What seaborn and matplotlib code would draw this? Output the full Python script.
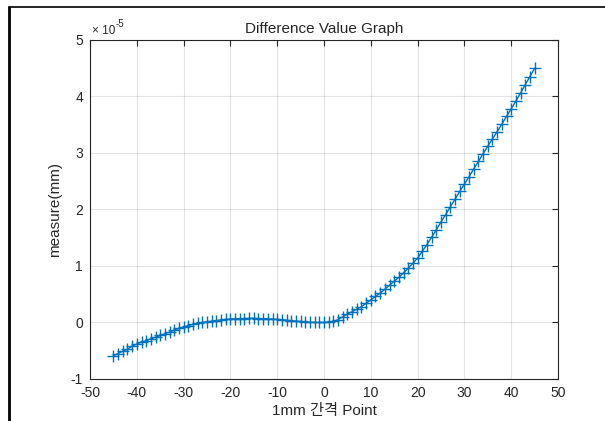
import numpy as np
import matplotlib
matplotlib.use("Agg")
import matplotlib.pyplot as plt
import matplotlib.ticker as mticker
from matplotlib.lines import Line2D
from matplotlib.transforms import offset_copy
import seaborn as sns

# 측정 포인트 (1mm 간격)
points = list(range(-45, 46))

# measure 값 (x 1e-5 mm), 그림에서 읽은 값
measure_e5 = [
    -0.59, -0.55, -0.51, -0.47, -0.42, -0.38, -0.35, -0.32, -0.29, -0.26,
    -0.23, -0.20, -0.17, -0.135, -0.105, -0.08, -0.055, -0.035, -0.015, 0.0,
    0.012, 0.024, 0.035, 0.045, 0.053, 0.06, 0.065, 0.068, 0.07, 0.072,
    0.072, 0.07, 0.068, 0.065, 0.06, 0.055, 0.048, 0.04, 0.032, 0.025,
    0.018, 0.01, 0.005, 0.001, 0.0, 0.0,
    0.005, 0.02, 0.05, 0.10, 0.15, 0.19, 0.235, 0.28, 0.34, 0.40,
    0.46, 0.52, 0.59, 0.66, 0.73, 0.80, 0.88, 0.96, 1.05, 1.14,
    1.26, 1.38, 1.51, 1.64, 1.78, 1.91, 2.05, 2.18, 2.32, 2.45,
    2.58, 2.72, 2.85, 2.99, 3.12, 3.25, 3.38, 3.51, 3.65, 3.78,
    3.92, 4.06, 4.21, 4.35, 4.50,
]
measure = np.array(measure_e5) * 1e-5

x_ticks = list(range(-50, 51, 10))
y_ticks = [v * 1e-5 for v in range(-1, 6)]

sns.set_style("white")
plt.rcParams['font.family'] = ['Liberation Sans', 'Noto Sans CJK KR', 'DejaVu Sans']
plt.rcParams['axes.unicode_minus'] = False

fig = plt.figure(figsize=(6.05, 4.21), dpi=100)
ax = fig.add_axes([0.1488, 0.0998, 0.7735, 0.8052])

sns.lineplot(x=points, y=measure, ax=ax, color='#0072BD', linewidth=1,
             marker='+', markersize=8, markeredgewidth=1,
             markeredgecolor='#0072BD')

ax.set_xlim(-50, 50)
ax.set_ylim(-1e-5, 5e-5)
ax.set_xticks(x_ticks)
ax.set_yticks(y_ticks)
ax.yaxis.set_major_formatter(mticker.FuncFormatter(lambda v, p: f"{v / 1e-5:g}"))

# 지수 표기 (x 10^-5)
base = ax.text(0.004, 1.01, '× 10', transform=ax.transAxes, fontsize=8.5,
               color='#262626', ha='left', va='bottom')
fig.canvas.draw()
bb = base.get_window_extent()
x_end = ax.transAxes.inverted().transform((bb.x1, bb.y1))[0]
ax.text(x_end, 1.032, '-5', transform=ax.transAxes, fontsize=7,
        color='#262626', ha='left', va='bottom')

ax.grid(True, color='#262626', alpha=0.12, linewidth=0.8)
for s in ax.spines.values():
    s.set_color('#262626')
    s.set_linewidth(0.8)
ax.tick_params(direction='in', top=True, right=True, length=4,
               width=0.8, colors='#262626', labelsize=10, pad=5)

ax.set_title('Difference Value Graph', fontsize=11, pad=5)
ax.set_xlabel('1mm 간격 Point', fontsize=11, labelpad=3)
ax.set_ylabel('measure(mm)', fontsize=11, labelpad=6)

# 바깥 테두리 (왼쪽, 위)
fig.add_artist(Line2D([8.5 / 605, 8.5 / 605], [0, 1 - 7 / 421],
                      transform=fig.transFigure, color='black', linewidth=2))
fig.add_artist(Line2D([8.5 / 605, 1], [1 - 7 / 421, 1 - 7 / 421],
                      transform=fig.transFigure, color='black', linewidth=1.2))

fig.savefig('out.png', dpi=100)
